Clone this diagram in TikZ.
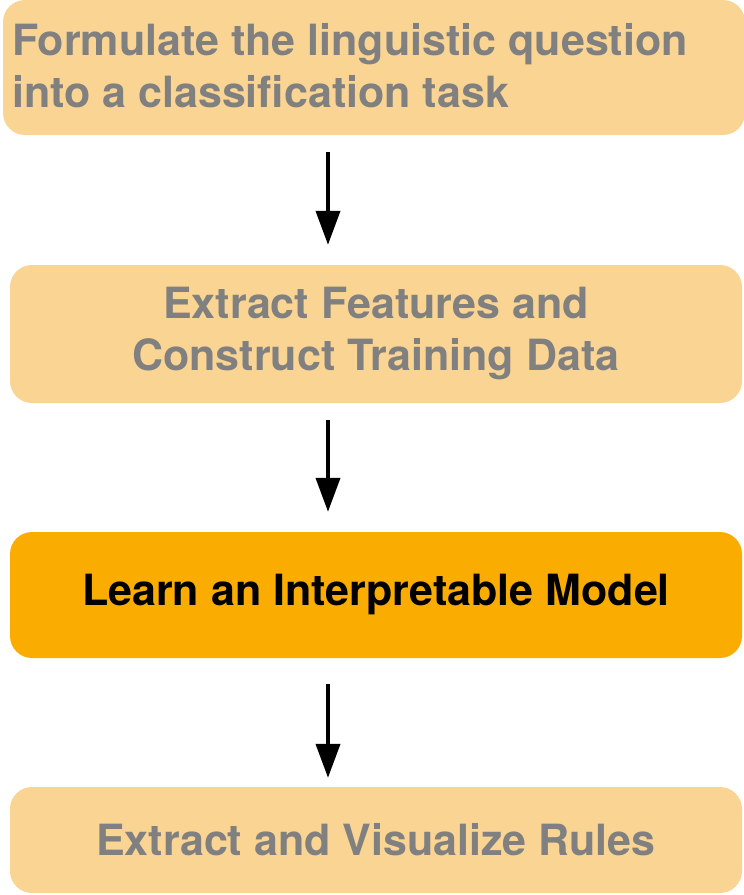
\documentclass[tikz,border=0pt]{standalone}
\usepackage{fontspec}
\setmainfont{TeX Gyre Heros}
\usetikzlibrary{arrows.meta,positioning}
\definecolor{lightbox}{RGB}{250,212,146}
\definecolor{mainbox}{RGB}{250,173,0}
\definecolor{greytext}{RGB}{128,128,128}
\tikzset{
  stagefont/.style={font=\fontsize{43}{52}\selectfont\bfseries},
  stagebox/.style={fill=lightbox, rounded corners=22pt, text=greytext,
    stagefont, align=center, inner sep=0pt},
  flowarrow/.style={line width=4pt, -{Triangle[length=34pt,width=24pt]}}
}
\begin{document}
\begin{tikzpicture}[x=1pt,y=1pt]
            \useasboundingbox (0,0) rectangle (744,-895);
            % Stages
            \node[stagebox, minimum width=742pt, minimum height=135pt] (formulate) at (374,-67.5) {};
            \node[stagefont, text=greytext, align=left, anchor=west, inner sep=0pt] (formtext) at (12,-66)
              {Formulate the linguistic question\\into a classification task};
            \node[stagebox, minimum width=732pt, minimum height=138pt] (extract) at (376,-334)
              {Extract Features and\\Construct Training Data};
            \node[stagebox, fill=mainbox, text=black, minimum width=732pt, minimum height=126pt] (learn) at (376,-595)
              {Learn an Interpretable Model};
            \node[stagebox, minimum width=732pt, minimum height=106pt] (rules) at (376,-840)
              {Extract and Visualize Rules};
            % Arrows between stages
            \draw[flowarrow] ([xshift=-46pt,yshift=-17pt]formulate.south) -- ([xshift=-48pt,yshift=20pt]extract.north);
            \draw[flowarrow] ([xshift=-48pt,yshift=-17pt]extract.south) -- ([xshift=-48pt,yshift=20pt]learn.north);
            \draw[flowarrow] ([xshift=-48pt,yshift=-26pt]learn.south) -- ([xshift=-48pt,yshift=9pt]rules.north);
          \end{tikzpicture}
\end{document}
